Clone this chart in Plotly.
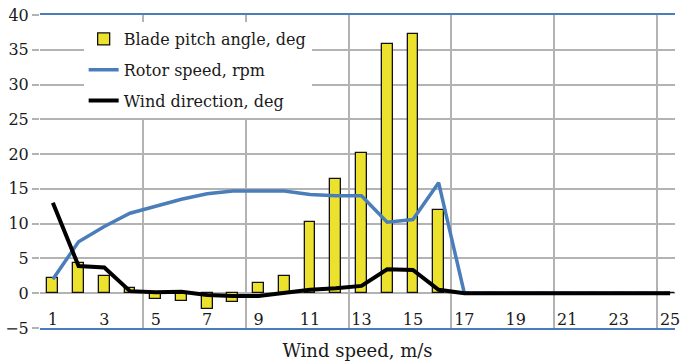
import plotly.graph_objects as go

# Wind speed bins (m/s)
wind_speed = list(range(1, 26))
tick_labels = [str(v) for v in range(1, 26, 2)]

blade_pitch = [2.2, 4.3, 2.5, 0.7, -0.9, -1.1, -2.3, -1.3, 1.4, 2.5,
               10.3, 16.4, 20.2, 35.9, 37.2, 12.0, 0, 0, 0, 0, 0, 0, 0, 0, 0]
rotor_speed = [2.0, 7.4, 9.6, 11.5, 12.5, 13.5, 14.3, 14.7, 14.7, 14.7,
               14.2, 14.0, 14.0, 10.2, 10.6, 15.9, 0, 0, 0, 0, 0, 0, 0, 0, 0]
wind_direction = [13.0, 3.9, 3.7, 0.3, 0.15, 0.2, -0.25, -0.4, -0.4, 0.1,
                  0.5, 0.7, 1.05, 3.45, 3.35, 0.5, 0, 0, 0, 0, 0, 0, 0, 0, 0]

W, H = 680, 364
ML, MT, MB = 40, 15, 36
FONT = "DejaVu Serif"
GRID = "#B3B3B3"
BLUE = "#4A7EBB"
TEXT = "#1a1a1a"

fig = go.Figure()
fig.add_trace(go.Bar(
    x=wind_speed, y=blade_pitch, name="Blade pitch angle, deg",
    width=0.42, marker=dict(color="#ECE22E", line=dict(color="#111111", width=1.3)),
    legendgroup="a",
))
fig.add_trace(go.Scatter(
    x=wind_speed, y=rotor_speed, name="Rotor speed, rpm", mode="lines",
    line=dict(color=BLUE, width=3.5), legendgroup="b",
))
fig.add_trace(go.Scatter(
    x=wind_speed, y=wind_direction, name="Wind direction, deg", mode="lines",
    line=dict(color="#000000", width=4), legendgroup="c",
))

# the plot area runs past the right edge of the page
x_lo = 0.5
x_hi = 0.5 + (W - ML) / 25.92

fig.update_layout(
    width=W, height=H,
    margin=dict(l=ML, r=0, t=MT, b=MB, pad=0),
    paper_bgcolor="white", plot_bgcolor="white",
    font=dict(family=FONT, size=16, color=TEXT),
    showlegend=True,
    legend=dict(
        x=(84 - ML) / (W - ML), y=(H - MB - 22) / (H - MB - MT),
        xanchor="left", yanchor="top",
        bgcolor="white", borderwidth=0,
        font=dict(family=FONT, size=16, color=TEXT),
        tracegroupgap=7,
    ),
    bargap=0,
    xaxis=dict(
        range=[x_lo, x_hi],
        tickmode="array", tickvals=list(range(1, 26, 2)), ticktext=tick_labels,
        ticks="", showgrid=False, zeroline=False,
        ticklabelposition="inside", ticklabeloverflow="allow",
        tickfont=dict(family=FONT, size=16, color=TEXT),
        showline=True, linecolor=BLUE, linewidth=1.5, mirror=True,
        minor=dict(tickvals=[0.5, 4.5, 8.5, 12.5, 16.5, 20.5, 24.5],
                   showgrid=True, gridcolor=GRID, gridwidth=1.5, ticks=""),
        title=dict(text="Wind speed, m/s", standoff=16,
                   font=dict(family=FONT, size=18, color=TEXT)),
    ),
    yaxis=dict(
        range=[-5, 40], tickmode="array", tickvals=list(range(-5, 41, 5)),
        showgrid=True, gridcolor=GRID, gridwidth=1.5, zeroline=False,
        ticks="outside", ticklen=7, tickcolor=GRID, tickwidth=1.5,
        showline=False,
        tickfont=dict(family=FONT, size=16, color=TEXT),
    ),
)

fig.write_html("out.html")
